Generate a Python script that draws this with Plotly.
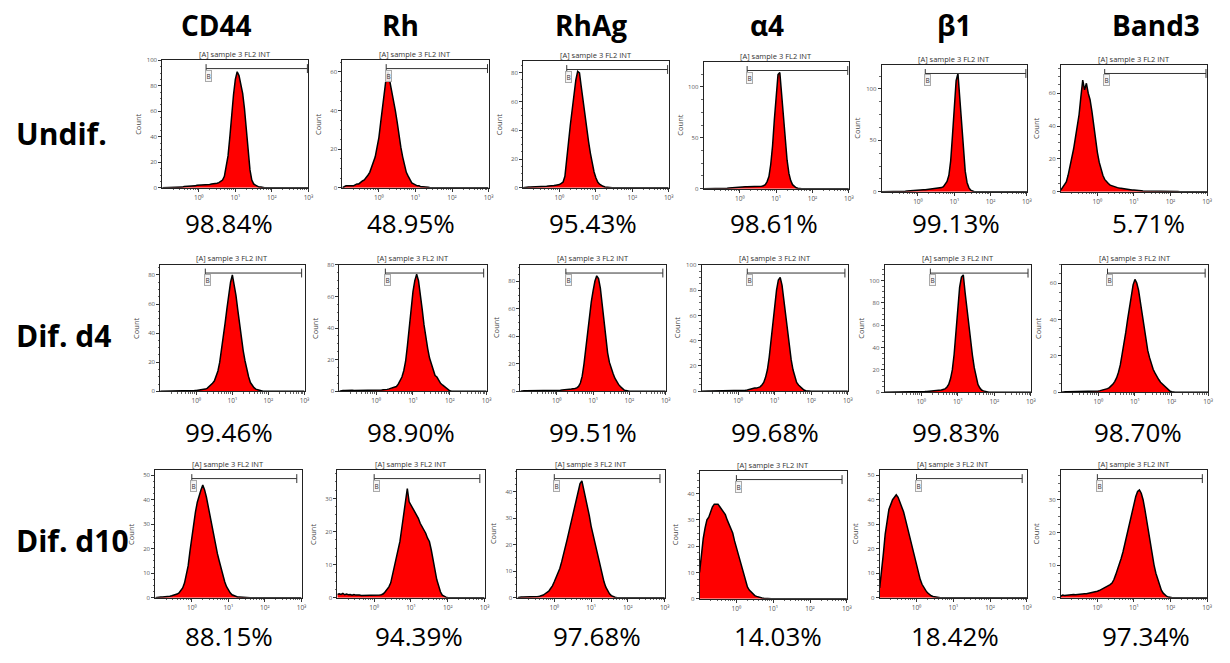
import math
import plotly.graph_objects as go

# ---------------- data ----------------
# histogram bins: log10(FL2 intensity), from 10^-1 to 10^3 in steps of 0.05 decade
LOG_BINS = [round(-1 + 0.05 * i, 2) for i in range(81)]

MARKERS = ["CD44", "Rh", "RhAg", "α4", "β1", "Band3"]
CONDITIONS = ["Undif.", "Dif. d4", "Dif. d10"]

PCT_UNDIF = ["98.84%", "48.95%", "95.43%", "98.61%", "99.13%", "5.71%"]
PCT_D4 = ["99.46%", "98.90%", "99.51%", "99.68%", "99.83%", "98.70%"]
PCT_D10 = ["88.15%", "94.39%", "97.68%", "14.03%", "18.42%", "97.34%"]

X_TICK_VALS = [0, 1, 2, 3]
X_TICK_TEXT = ["10⁰", "10¹", "10²", "10³"]

# counts per bin (trailing empty bins omitted)
CD44_U = [0, 0, 0, 0, 0, 0, 0, 0, 0, 0, 0.5, 0.5, 1, 1, 1, 1.5, 1, 1.5, 1.5, 2,
          2, 2, 2, 2, 2.5, 2.5, 2.5, 3, 3, 3, 3.5, 4, 5, 6, 9, 17, 25, 40, 58, 73,
          85, 91, 88, 82, 74, 62, 45, 28, 14, 6, 3, 2, 1, 0.5, 0.5]
RH_U = [0, 0.5, 1, 1, 1, 1, 1, 1.5, 2, 2, 3, 3.5, 4, 5, 6.5, 8, 11, 13, 16, 21,
        26, 34, 42, 50, 57, 60, 55, 52, 47, 40, 34, 27, 21, 16, 12, 8, 6, 4, 2.5, 2,
        1.5, 1, 1, 0.5, 0.5, 0.5, 0.5, 0.3]
RHAG_U = [0, 0.3, 0.5, 0.5, 0.5, 0.5, 0.5, 0.8, 1, 1, 1, 1, 1, 1, 1.2, 1.2, 1.5, 1.5, 1.8, 2,
          2.2, 3, 4, 8, 18, 32, 44, 55, 66, 75, 81, 80, 70, 60, 48, 40, 32, 24, 17, 11,
          7, 4, 2.5, 1.5, 1, 0.5, 0.3]
A4_U = [0, 0, 0, 0, 0, 0, 0, 0, 0, 0, 0, 0.3, 0.5, 0.5, 0.8, 1, 1, 1, 1.2, 1.3,
        1.5, 1.5, 1.8, 2, 2, 2, 2, 2, 2, 2, 2, 2.2, 2.5, 3, 4, 7, 12, 24, 42, 68,
        95, 112, 114, 92, 66, 44, 28, 15, 8, 4, 2, 1, 0.5]
B1_U = [0, 0, 0, 0, 0, 0, 0, 0, 0, 0, 0.3, 0.5, 0.5, 0.5, 0.8, 1, 1, 1, 1, 1.2,
        1.5, 1.5, 1.8, 2, 2, 2.2, 2.5, 2.5, 2.8, 3, 3, 3.2, 3.5, 4, 5, 7, 10, 16, 30, 55,
        85, 108, 115, 92, 62, 38, 20, 9, 4, 1.5, 0.5]
BAND3_U = [1, 2.5, 4, 6, 10, 15, 21, 26, 33, 40, 47, 58, 68, 62, 66, 60, 56, 49, 40, 32,
           24, 18, 13, 10, 7.5, 6, 5, 4, 3.5, 3, 2.8, 2.5, 2.2, 2, 1.8, 1.5, 1.5, 1.2, 1, 1,
           1, 0.8, 0.8, 0.7, 0.6, 0.5, 0.5, 0.5, 0.5, 0.5, 0.4, 0.4, 0.4, 0.3, 0.3, 0.3, 0.3, 0.3, 0.3, 0.3,
           0.2, 0.2, 0.2, 0.2, 0.2]

CD44_D4 = [0, 0, 0, 0, 0, 0, 0, 0, 0, 0, 0, 0, 0, 0, 0.3, 0.3, 0.4, 0.4, 0.5, 0.5,
           0.6, 0.7, 0.8, 1, 1.2, 1.5, 2, 3, 4, 5.5, 7, 10, 14, 20, 28, 37, 47, 57, 66, 75,
           80, 74, 66, 56, 46, 36, 28, 21, 15, 10, 6, 4, 2.5, 1.5, 1, 0.5, 0.3]
RH_D4 = [0, 0.5, 0.5, 0.5, 0.6, 0.5, 0.5, 0.6, 0.5, 0.5, 0.5, 0.6, 0.5, 0.5, 0.6, 0.6, 0.5, 0.6, 0.6, 0.7,
         0.7, 0.7, 0.8, 0.8, 1, 1, 1.2, 1.5, 1.8, 2, 2.5, 3, 4.5, 6.5, 9, 13, 19, 29, 40, 53,
         63, 70, 74, 70, 62, 52, 42, 33, 27, 21, 17, 13, 10, 9, 7, 5, 4, 3, 2, 1,
         0.3]
RHAG_D4 = [0, 0.3, 0.3, 0.3, 0.3, 0.3, 0.3, 0.3, 0.3, 0.3, 0.3, 0.3, 0.4, 0.4, 0.4, 0.4, 0.4, 0.5, 0.5, 0.5,
           0.5, 0.6, 0.8, 1, 1, 1.2, 1.3, 1.5, 1.6, 1.7, 2, 2.5, 3.5, 6, 11, 20, 32, 44, 55, 65,
           73, 80, 84, 82, 75, 63, 49, 37, 28, 21, 16, 13, 9.5, 7, 5, 3.5, 2, 1, 0.5]
A4_D4 = [0, 0.2, 0.3, 0.3, 0.3, 0.3, 0.3, 0.3, 0.3, 0.3, 0.3, 0.3, 0.3, 0.3, 0.4, 0.4, 0.4, 0.4, 0.5, 0.5,
         0.5, 0.5, 0.5, 0.6, 0.8, 1, 1.5, 2, 2.5, 2.5, 2.5, 3, 3.5, 5, 7, 11, 17, 27, 40, 55,
         69, 80, 88, 90, 84, 72, 59, 46, 35, 25, 17, 11, 7, 5, 3.5, 2, 1, 0.5, 0.2]
B1_D4 = [0, 0, 0, 0, 0, 0, 0, 0, 0, 0, 0.3, 0.3, 0.3, 0.3, 0.3, 0.3, 0.4, 0.4, 0.4, 0.4,
         0.5, 0.5, 0.6, 0.7, 0.8, 0.9, 1, 1.1, 1.2, 1.4, 1.6, 2, 2.5, 3, 4.5, 7, 12, 20, 34, 55,
         78, 94, 103, 105, 89, 74, 60, 46, 33, 22, 13, 7, 4, 2, 1.2, 0.6, 0.3]
BAND3_D4 = [0, 0.3, 0.3, 0.3, 0.3, 0.3, 0.3, 0.3, 0.3, 0.3, 0.4, 0.4, 0.4, 0.4, 0.4, 0.4, 0.5, 0.5, 0.6, 0.6,
            0.7, 0.9, 1.1, 1.3, 1.6, 2, 2.6, 3.4, 4.5, 6, 8, 11, 15, 21, 26, 33, 40, 47, 54, 59,
            62, 60, 56, 49, 42, 35, 29, 23, 19, 15, 12.5, 10.5, 8.5, 7, 5.5, 4.5, 3.5, 2.5, 1.5, 0.8,
            0.3]

CD44_D10 = [0, 0.2, 0.3, 0.3, 0.3, 0.3, 0.4, 0.5, 0.6, 0.8, 1, 1.2, 1.5, 2, 3, 4, 6, 9, 13, 19,
            25, 31, 35, 39, 42, 44, 46, 44, 41, 37, 34, 30, 25, 22, 18, 15, 12, 9, 6.5, 4.5,
            3, 2, 1.2, 0.8, 0.5, 0.3, 0.3, 0.2, 0.2, 0.1]
RH_D10 = [1, 1.2, 1, 1.3, 0.9, 1.1, 0.9, 1, 0.8, 1, 0.8, 0.9, 0.8, 0.7, 0.7, 0.8, 0.6, 0.7, 0.6, 0.6,
          0.6, 0.6, 0.7, 0.8, 0.9, 1.2, 1.8, 2.5, 3.3, 4.5, 7, 9, 11, 13.5, 17, 21, 25, 28, 33, 29,
          28, 27, 26, 25, 24, 22.5, 21.5, 20.5, 19.5, 18, 17, 14.5, 12, 8.5, 5.5, 3.3, 1.8, 0.8, 0.4, 0.2]
RHAG_D10 = [0, 0.3, 0.3, 0.3, 0.3, 0.3, 0.3, 0.3, 0.3, 0.3, 0.4, 0.5, 0.6, 0.8, 1, 1.5, 2, 2.5, 3.5, 4.5,
            6, 7.5, 9, 11, 13.5, 16, 19, 22, 25, 28, 31, 34, 37, 40, 43, 44, 41, 37, 34, 31,
            27, 24, 21, 17.5, 14, 11, 8.5, 6, 4, 2.5, 1.5, 0.8, 0.4, 0.2]
A4_D10 = [10, 18, 23, 27, 30, 31, 33, 35, 36, 36, 36, 35, 34, 33, 32, 30, 28.5, 27, 25, 22,
          19.5, 17, 14, 11, 8.5, 6.5, 4.5, 3.3, 2.5, 1.8, 1.2, 0.9, 0.6, 0.4, 0.3, 0.2, 0.1]
B1_D10 = [4, 10, 18, 26, 32, 36, 38, 40, 41, 42, 41, 39, 37, 35, 32, 29, 26, 22, 19, 16,
          13, 10, 7.5, 5.5, 4, 3, 2, 1.3, 0.8, 0.5, 0.3, 0.2]
BAND3_D10 = [0.5, 0.8, 0.7, 0.8, 0.9, 0.8, 0.9, 1, 0.9, 1, 1.1, 1, 1.1, 1.2, 1.2, 1.3, 1.4, 1.5, 1.6, 1.8,
             2, 2.2, 2.5, 2.8, 3, 3.3, 3.6, 4, 4.5, 5.5, 7, 8.5, 10, 12, 14, 16.5, 19, 21.5, 24, 26.5,
             29, 31, 32.5, 33, 32, 30, 27, 23.5, 20, 16.5, 13, 10, 7.5, 5.5, 3.5, 2.3, 1.4, 0.8, 0.4, 0.2]

COUNTS = [
    [CD44_U, RH_U, RHAG_U, A4_U, B1_U, BAND3_U],
    [CD44_D4, RH_D4, RHAG_D4, A4_D4, B1_D4, BAND3_D4],
    [CD44_D10, RH_D10, RHAG_D10, A4_D10, B1_D10, BAND3_D10],
]
PERCENTS = [PCT_UNDIF, PCT_D4, PCT_D10]

# gate "B" (log10 units) per row
GATE_LO = [0.2, 0.25, 0.0]
GATE_HI = [2.97, 2.92, 2.87]

# ---------------- layout (pixels) ----------------
W, H = 1230, 663
PANEL_X = [
    [(163, 310), (344, 491), (525.6, 672), (707, 853), (886, 1032), (1066, 1213)],
    [(161, 306), (341, 489), (523, 669), (705, 852), (889, 1036), (1067, 1214)],
    [(156, 303), (339, 487), (520, 668), (703, 851), (884, 1032), (1066, 1213)],
]
PANEL_Y = [
    [(57, 186), (57, 186), (58, 186), (59, 187), (62, 190), (62, 190)],
    [(264, 392), (264, 392), (264, 392), (264, 392), (264, 393), (264, 393)],
    [(472, 601), (472, 601), (472, 601), (473, 602), (472, 601), (472, 601)],
]
YMAX = [[100, 66, 88, 124, 123, 77], [87, 80, 92, 100, 114, 70], [52, 38.5, 48, 48.5, 52, 39]]
YDTICK = [[20, 20, 20, 50, 50, 20], [20] * 6, [10] * 6]

HEADER_X = [218, 402, 594, 771, 959, 1162]
HEADER_Y = 21
ROW_LABEL_Y = [131, 336, 543]
PCT_X = [[230, 413, 596, 778, 961, 1154],
         [230, 413, 596, 779, 961, 1144],
         [230, 421, 600, 782, 960, 1152]]
PCT_Y = [222, 433, 640]


def px(x):
    return x / W


def py(y):
    return 1 - y / H


def pad(vals):
    return list(vals) + [0] * (len(LOG_BINS) - len(vals))


MINOR_X = [round(math.log10(k) + d, 4) for d in (-1, 0, 1, 2) for k in range(2, 10)]

fig = go.Figure()
annotations = []
shapes = []
layout_axes = {}
FONT = "Open Sans"

n = 0
for r in range(3):
    for c in range(6):
        n += 1
        xa = "x" if n == 1 else f"x{n}"
        ya = "y" if n == 1 else f"y{n}"
        xkey = "xaxis" if n == 1 else f"xaxis{n}"
        ykey = "yaxis" if n == 1 else f"yaxis{n}"
        L, R = PANEL_X[r][c]
        T, B = PANEL_Y[r][c]
        ymax = YMAX[r][c]
        dt = YDTICK[r][c]

        fig.add_trace(go.Scatter(
            x=LOG_BINS, y=pad(COUNTS[r][c]), mode="lines",
            fill="tozeroy", fillcolor="#ff0000",
            line=dict(color="#000000", width=1.5, shape="linear"),
            xaxis=xa, yaxis=ya, hoverinfo="skip", showlegend=False,
        ))

        layout_axes[xkey] = dict(
            domain=[px(L), px(R)], range=[-1, 3], anchor=ya,
            tickmode="array", tickvals=X_TICK_VALS, ticktext=X_TICK_TEXT,
            ticks="outside", ticklen=3, tickwidth=1, tickcolor="#333",
            tickfont=dict(family=FONT, size=6.5, color="#555"),
            minor=dict(tickvals=MINOR_X, ticks="outside", ticklen=1.5, tickcolor="#666", tickwidth=0.8),
            showgrid=False, zeroline=False, showline=True, linecolor="#222",
            linewidth=1, mirror=True, fixedrange=True,
        )
        layout_axes[ykey] = dict(
            domain=[py(B), py(T)], range=[0, ymax], anchor=xa,
            tick0=0, dtick=dt,
            ticks="outside", ticklen=3, tickwidth=1, tickcolor="#333",
            tickfont=dict(family=FONT, size=6, color="#555"),
            minor=dict(dtick=dt / 4, ticks="outside", ticklen=1.5, tickcolor="#666", tickwidth=0.8),
            showgrid=False, zeroline=False, showline=True, linecolor="#222",
            linewidth=1, mirror=True, fixedrange=True,
        )

        # gate B
        gy = 0.935 * ymax
        glo, ghi = GATE_LO[r], GATE_HI[r]
        h = 0.035 * ymax
        for (x0, y0, x1, y1) in [(glo, gy, ghi, gy), (glo, gy - h, glo, gy + h), (ghi, gy - h, ghi, gy + h)]:
            shapes.append(dict(type="line", xref=xa, yref=ya, x0=x0, y0=y0, x1=x1, y1=y1,
                               line=dict(color="#333", width=1)))
        annotations.append(dict(
            x=glo + 0.06, y=gy, xref=xa, yref=ya, yshift=-7, text="B", showarrow=False,
            font=dict(family=FONT, size=6.5, color="#333"),
            bordercolor="#aaa", borderwidth=1, borderpad=0.5, bgcolor="rgba(245,245,245,0.9)",
            xanchor="center", yanchor="middle",
        ))

        # panel title and y-axis title
        annotations.append(dict(
            x=px((L + R) / 2), y=py(T - 6.5), xref="paper", yref="paper",
            text="[A] sample 3 FL2 INT", showarrow=False,
            font=dict(family=FONT, size=7.5, color="#333"),
            xanchor="center", yanchor="middle",
        ))
        annotations.append(dict(
            x=px(L - 24.5), y=py((T + B) / 2), xref="paper", yref="paper",
            text="Count", showarrow=False, textangle=-90,
            font=dict(family=FONT, size=7.5, color="#444"),
            xanchor="center", yanchor="middle",
        ))

        # percentage
        annotations.append(dict(
            x=px(PCT_X[r][c]), y=py(PCT_Y[r]), xref="paper", yref="paper",
            text=PERCENTS[r][c], showarrow=False,
            font=dict(family=FONT, size=26, color="#000"),
            xanchor="center", yanchor="middle",
        ))

for c, name in enumerate(MARKERS):
    annotations.append(dict(
        x=px(HEADER_X[c]), y=py(HEADER_Y), xref="paper", yref="paper",
        text=f"<b>{name}</b>", showarrow=False,
        font=dict(family=FONT, size=28, color="#000"),
        xanchor="center", yanchor="middle",
    ))
for r, name in enumerate(CONDITIONS):
    annotations.append(dict(
        x=px(14), y=py(ROW_LABEL_Y[r]), xref="paper", yref="paper",
        text=f"<b>{name}</b>", showarrow=False,
        font=dict(family=FONT, size=30, color="#000"),
        xanchor="left", yanchor="middle",
    ))

fig.update_layout(
    width=W, height=H, margin=dict(l=0, r=0, t=0, b=0),
    paper_bgcolor="white", plot_bgcolor="white",
    showlegend=False, annotations=annotations, shapes=shapes,
    **layout_axes,
)

fig.write_html("out.html", config={"displayModeBar": False})
